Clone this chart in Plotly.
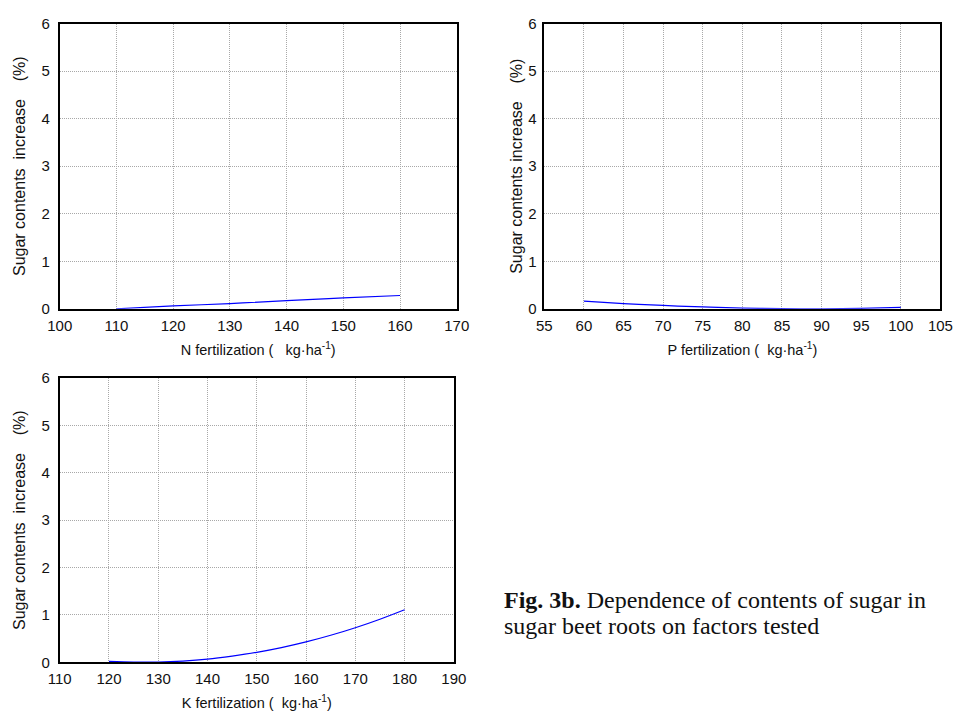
import plotly.graph_objects as go

W, H = 968, 724

# Data
n_x = [110, 120, 130, 140, 150, 160]
n_y = [0.0, 0.06, 0.11, 0.17, 0.23, 0.28]

p_x = [60, 65, 70, 75, 80, 85, 90, 95, 100]
p_y = [0.16, 0.11, 0.07, 0.04, 0.015, 0.003, 0.0, 0.01, 0.03]

k_x = [120, 125, 130, 135, 140, 145, 150, 155, 160, 165, 170, 175, 180]
k_y = [0.02, 0.005, 0.005, 0.025, 0.065, 0.13, 0.21, 0.31, 0.43, 0.57, 0.73, 0.91, 1.11]

n_ticks = [100, 110, 120, 130, 140, 150, 160, 170]
p_ticks = [55, 60, 65, 70, 75, 80, 85, 90, 95, 100, 105]
k_ticks = [110, 120, 130, 140, 150, 160, 170, 180, 190]
y_ticks = [0, 1, 2, 3, 4, 5, 6]

NB = "\u00a0"
y_title_1 = f"Sugar contents{NB}{NB}increase{NB}{NB}{NB}{NB}(%)"
y_title_2 = f"Sugar contents increase{NB}{NB}{NB}{NB}(%)"
x_title_n = f"N fertilization ({NB}{NB}{NB}kg·ha<sup>-1</sup>)"
x_title_p = f"P fertilization ({NB}{NB}kg·ha<sup>-1</sup>)"
x_title_k = f"K fertilization ({NB}{NB}kg·ha<sup>-1</sup>)"

caption_1 = "<b>Fig. 3b.</b> Dependence of contents of sugar in"
caption_2 = "sugar beet roots on factors tested"

def px_x(a, b):
    return [a / W, b / W]

def px_y(top, bottom):
    return [1 - bottom / H, 1 - top / H]

fig = go.Figure()
line = dict(color="#0000ff", width=1.2)
fig.add_trace(go.Scatter(x=n_x, y=n_y, mode="lines", line=line, xaxis="x", yaxis="y", line_shape="spline"))
fig.add_trace(go.Scatter(x=p_x, y=p_y, mode="lines", line=line, xaxis="x2", yaxis="y2", line_shape="spline"))
fig.add_trace(go.Scatter(x=k_x, y=k_y, mode="lines", line=line, xaxis="x3", yaxis="y3", line_shape="spline"))

font_tick = dict(family="Liberation Sans, Arial", size=15, color="#111")
font_xtitle = dict(family="Liberation Sans, Arial", size=14.5, color="#111")
font_ytitle = dict(family="Liberation Sans, Arial", size=16, color="#111")

grid = dict(showgrid=True, gridcolor="#a8a8a8", griddash="1px,1px", gridwidth=1)

def xax(dom, anchor, rng, ticks, title):
    return dict(domain=dom, anchor=anchor, range=rng, tickvals=ticks, ticks="",
                showline=True, linecolor="#000", linewidth=1.5, mirror=True,
                zeroline=False, tickfont=font_tick, ticklabelstandoff=2,
                title=dict(text=title, font=font_xtitle, standoff=12), **grid)

def yax(dom, anchor, title, label_gap, standoff):
    return dict(domain=dom, anchor=anchor, range=[0, 6], tickvals=y_ticks, ticks="",
                showline=True, linecolor="#000", linewidth=1.5, mirror=True,
                zeroline=False, tickfont=font_tick, ticklabelstandoff=label_gap,
                title=dict(text=title, font=font_ytitle, standoff=standoff), **grid)

cap_font = dict(family="Liberation Serif, Times New Roman", size=24, color="#111")

fig.update_layout(
    width=W, height=H,
    margin=dict(l=0, r=0, t=0, b=0),
    paper_bgcolor="white", plot_bgcolor="white",
    showlegend=False,
    xaxis=xax(px_x(48, 456), "y", [100, 170], n_ticks, x_title_n),
    yaxis=yax(px_y(15, 307), "x", y_title_1, 5, 12),
    xaxis2=xax(px_x(546, 953), "y2", [55, 105], p_ticks, x_title_p),
    yaxis2=yax(px_y(15, 307), "x2", y_title_2, 3, 2),
    xaxis3=xax(px_x(48, 453), "y3", [110, 190], k_ticks, x_title_k),
    yaxis3=yax(px_y(378, 669), "x3", y_title_1, 5, 12),
    annotations=[
        dict(text=caption_1, x=503 / W, y=1 - 605 / H, xref="paper", yref="paper",
             xanchor="left", yanchor="middle", align="left", showarrow=False, font=cap_font),
        dict(text=caption_2, x=503 / W, y=1 - 632 / H, xref="paper", yref="paper",
             xanchor="left", yanchor="middle", align="left", showarrow=False, font=cap_font),
    ],
)

fig.write_html("out.html")
